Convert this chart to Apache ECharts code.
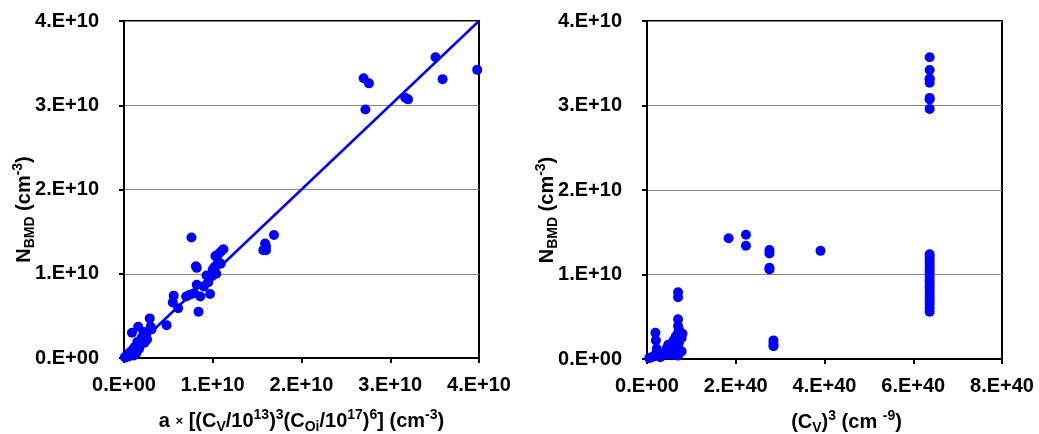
<!DOCTYPE html>
<html>
<head>
<meta charset="utf-8">
<script src="https://cdn.jsdelivr.net/npm/echarts@6/dist/echarts.min.js"></script>
<style>html,body{margin:0;padding:0;background:#fff;}#c{width:1039px;height:434px;}</style>
</head>
<body>
<div id="c"></div>
<script>
// Left panel: a x [(Cv/1e13)^3 (COi/1e17)^6] vs N_BMD
const leftX = [2.70e10,2.76e10,2.72e10,3.17e10,3.20e10,3.51e10,3.59e10,3.98e10,
  0.76e10,1.59e10,1.60e10,1.57e10,1.69e10,1.60e10,
  0.82e10,0.81e10,1.12e10,1.10e10,1.07e10,1.03e10,1.06e10,1.09e10,1.00e10,1.02e10,0.99e10,0.93e10,0.97e10,0.82e10,0.86e10,0.84e10,0.79e10,0.74e10,0.70e10,0.56e10,0.55e10,0.61e10,0.90e10,0.95e10,1.04e10,
  0.48e10,0.29e10,0.30e10,0.31e10,0.16e10,0.09e10,0.22e10,0.25e10,0.20e10,0.15e10,0.18e10,0.12e10,0.10e10,0.07e10,0.05e10,0.03e10,0.01e10,0.02e10,0.14e10,0.12e10,0.08e10,0.26e10,0.23e10,0.17e10,0.06e10,0.11e10];
const leftY = [3.32e10,3.26e10,2.95e10,3.09e10,3.07e10,3.57e10,3.31e10,3.42e10,
  1.43e10,1.36e10,1.28e10,1.28e10,1.46e10,1.33e10,
  1.07e10,1.09e10,1.29e10,1.27e10,1.24e10,1.21e10,1.15e10,1.12e10,1.05e10,1.08e10,0.97e10,0.98e10,0.76e10,0.87e10,0.73e10,0.55e10,0.77e10,0.75e10,0.73e10,0.74e10,0.66e10,0.59e10,0.85e10,0.90e10,1.00e10,
  0.39e10,0.47e10,0.37e10,0.34e10,0.37e10,0.30e10,0.31e10,0.28e10,0.24e10,0.19e10,0.15e10,0.13e10,0.10e10,0.07e10,0.05e10,0.03e10,0.01e10,0.005e10,0.06e10,0.09e10,0.04e10,0.22e10,0.18e10,0.11e10,0.02e10,0.03e10];
const fitX = [0, 4e10];
const fitY = [0, 4e10];

// Right panel: (Cv)^3 vs N_BMD
const rightX = [6.37e40,6.37e40,6.37e40,6.37e40,6.37e40,6.37e40,6.37e40,6.37e40,
  6.37e40,6.37e40,6.37e40,6.37e40,6.37e40,6.37e40,6.37e40,6.37e40,6.37e40,6.37e40,6.37e40,6.37e40,6.37e40,6.37e40,6.37e40,6.37e40,6.37e40,6.37e40,
  1.84e40,2.23e40,2.23e40,2.76e40,2.76e40,2.76e40,2.76e40,2.85e40,2.85e40,2.85e40,3.91e40,
  0.70e40,0.70e40,0.70e40,0.70e40,0.72e40,0.70e40,0.75e40,0.70e40,0.78e40,0.72e40,0.70e40,0.72e40,0.70e40,0.78e40,0.80e40,0.65e40,0.60e40,0.58e40,0.55e40,0.48e40,0.45e40,0.40e40,0.35e40,0.19e40,0.20e40,0.22e40,0.20e40,0.25e40,0.10e40,0.05e40,0.15e40,0.30e40,0.62e40,0.50e40];
const rightY = [3.57e10,3.42e10,3.32e10,3.31e10,3.27e10,3.09e10,3.07e10,2.96e10,
  1.24e10,1.21e10,1.17e10,1.13e10,1.09e10,1.05e10,1.01e10,0.97e10,0.93e10,0.89e10,0.85e10,0.81e10,0.77e10,0.73e10,0.69e10,0.65e10,0.60e10,0.56e10,
  1.43e10,1.47e10,1.34e10,1.29e10,1.25e10,1.08e10,1.06e10,0.22e10,0.18e10,0.15e10,1.28e10,
  0.79e10,0.73e10,0.47e10,0.39e10,0.35e10,0.31e10,0.27e10,0.23e10,0.25e10,0.19e10,0.13e10,0.09e10,0.04e10,0.09e10,0.30e10,0.27e10,0.22e10,0.15e10,0.10e10,0.17e10,0.13e10,0.07e10,0.05e10,0.31e10,0.22e10,0.12e10,0.06e10,0.04e10,0.02e10,0.01e10,0.03e10,0.02e10,0.05e10,0.05e10];

const yTickLabels = ['0.E+00','1.E+10','2.E+10','3.E+10','4.E+10'];
const leftXTickLabels = ['0.E+00','1.E+10','2.E+10','3.E+10','4.E+10'];
const rightXTickLabels = ['0.E+00','2.E+40','4.E+40','6.E+40','8.E+40'];

const FONT = 'Liberation Sans, Arial, sans-serif';
const BLUE = '#0000ff';

const rich = {
  n: {fontSize: 20, fontWeight: 'bold', fontFamily: FONT, color: '#000', lineHeight: 26},
  sub: {fontSize: 14, fontWeight: 'bold', fontFamily: FONT, color: '#000', verticalAlign: 'bottom', lineHeight: 26},
  sup: {fontSize: 14, fontWeight: 'bold', fontFamily: FONT, color: '#000', verticalAlign: 'top', lineHeight: 26},
  x: {fontSize: 13, fontWeight: 'bold', fontFamily: FONT, color: '#000', lineHeight: 26}
};

function zip(a, b) { return a.map((v, i) => [v, b[i]]); }

function valueAxis(gridIndex, min, max, interval, labels, margin, extra) {
  return Object.assign({
    type: 'value', gridIndex, min, max, interval,
    nameMoveOverlap: false,
    axisLine: {show: true, onZero: false, lineStyle: {color: '#000', width: 2}},
    axisTick: {show: true, inside: false, length: 5, lineStyle: {color: '#000', width: 2}},
    axisLabel: {
      fontSize: 20, fontWeight: 'bold', fontFamily: FONT, color: '#000', margin,
      showMinLabel: true, showMaxLabel: true, hideOverlap: false,
      formatter: (v, i) => labels[Math.round((v - min) / interval)]
    },
    splitLine: {show: false},
    nameTextStyle: {rich}
  }, extra);
}

const yName = '{n|N}{sub|BMD}{n| (cm}{sup|-3}{n|)}';
const yExtra = {
  name: yName, nameLocation: 'middle', nameGap: 87, nameRotate: 90,
  nameTextStyle: {rich, padding: [0, 40, 0, 0]},
  splitLine: {show: true, lineStyle: {color: '#888', width: 1}}
};

const option = {
  backgroundColor: '#fff',
  animation: false,
  grid: [
    {left: 124, top: 21, width: 355, height: 337, show: true, borderColor: '#000', borderWidth: 2, backgroundColor: 'transparent', containLabel: false, outerBoundsMode: 'none'},
    {left: 647, top: 21, width: 355, height: 338, show: true, borderColor: '#000', borderWidth: 2, backgroundColor: 'transparent', containLabel: false, outerBoundsMode: 'none'}
  ],
  xAxis: [
    valueAxis(0, 0, 4e10, 1e10, leftXTickLabels, 17, {
      name: '{n|a }{x|×}{n| [(C}{sub|V}{n|/10}{sup|13}{n|)}{sup|3}{n|(C}{sub|Oi}{n|/10}{sup|17}{n|)}{sup|6}{n|] (cm}{sup|-3}{n|)}',
      nameLocation: 'middle', nameGap: 50, nameTextStyle: {rich}
    }),
    valueAxis(1, 0, 8e40, 2e40, rightXTickLabels, 17, {
      name: '{n|(C}{sub|V}{n|)}{sup|3}{n| (cm }{sup|-9}{n|)}',
      nameLocation: 'middle', nameGap: 50, nameTextStyle: {rich, padding: [0, 0, 0, 44]}
    })
  ],
  yAxis: [
    valueAxis(0, 0, 4e10, 1e10, yTickLabels, 25, yExtra),
    valueAxis(1, 0, 4e10, 1e10, yTickLabels, 25, yExtra)
  ],
  series: [
    {type: 'line', xAxisIndex: 0, yAxisIndex: 0, data: zip(fitX, fitY), showSymbol: false, symbol: 'none',
     lineStyle: {color: BLUE, width: 2.5}, z: 3},
    {type: 'scatter', xAxisIndex: 0, yAxisIndex: 0, data: zip(leftX, leftY), symbolSize: 10,
     itemStyle: {color: BLUE, opacity: 1}, z: 4},
    {type: 'scatter', xAxisIndex: 1, yAxisIndex: 1, data: zip(rightX, rightY), symbolSize: 10,
     itemStyle: {color: BLUE, opacity: 1}, z: 4}
  ]
};

const chart = echarts.init(document.getElementById('c'), null, {renderer: 'canvas'});
chart.setOption(option);
</script>
</body>
</html>
